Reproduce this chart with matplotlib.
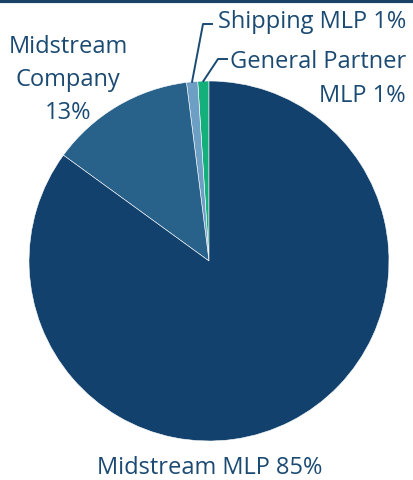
import numpy as np
import matplotlib.pyplot as plt

labels = ['General Partner MLP', 'Shipping MLP', 'Midstream Company', 'Midstream MLP']
shares = [1, 1, 13, 85]
colors = ['#13b07b', '#6d9fc5', '#28618a', '#11416c']
txt = '#1b4a73'

W, H = 414, 481
fig = plt.figure(figsize=(W/100, H/100), dpi=100)
ax = fig.add_axes([0, 0, 1, 1])
ax.set_xlim(0, W)
ax.set_ylim(0, H)
ax.axis('off')

cx, cy, r = 209, H-262, 180
ax.pie(shares, colors=colors, startangle=90, counterclock=True, center=(cx, cy), radius=r,
       wedgeprops=dict(edgecolor='white', linewidth=0.4), frame=False)
ax.set_xlim(0, W)
ax.set_ylim(0, H)
ax.set_aspect('auto')

# top rule
ax.plot([0, W], [H-1.5, H-1.5], color='#1a4266', lw=3, solid_capstyle='butt')

font = 'Open Sans'
fs = 17
ax.text(210, H-468, f'{labels[3]} {shares[3]}%', ha='center', va='center', fontsize=fs, color=txt, family=font)
ax.text(68, H-80, f'Midstream\nCompany\n{shares[2]}%', ha='center', va='center', fontsize=fs, color=txt,
        family=font, linespacing=1.5)
ax.text(218, H-22, f'{labels[1]} {shares[1]}%', ha='left', va='center', fontsize=fs, color=txt, family=font)
ax.text(406, H-79, f'General Partner\n{labels[0].split()[-1]} {shares[0]}%', ha='right', va='center',
        fontsize=fs, color=txt, family=font, linespacing=1.5, multialignment='right')

# leader lines
def edge(frac):
    a = np.deg2rad(90 + 360*frac)
    return cx + r*np.cos(a), cy + r*np.sin(a)

x0, y0 = edge((shares[0] + shares[1]/2)/100)
ax.plot([x0, 203, 212], [y0, H-25, H-25], color=txt, lw=1.4)
x1, y1 = edge(shares[0]/2/100)
ax.plot([x1, 218, 227], [y1, H-60, H-60], color=txt, lw=1.4)

fig.savefig('out.png', dpi=100)
